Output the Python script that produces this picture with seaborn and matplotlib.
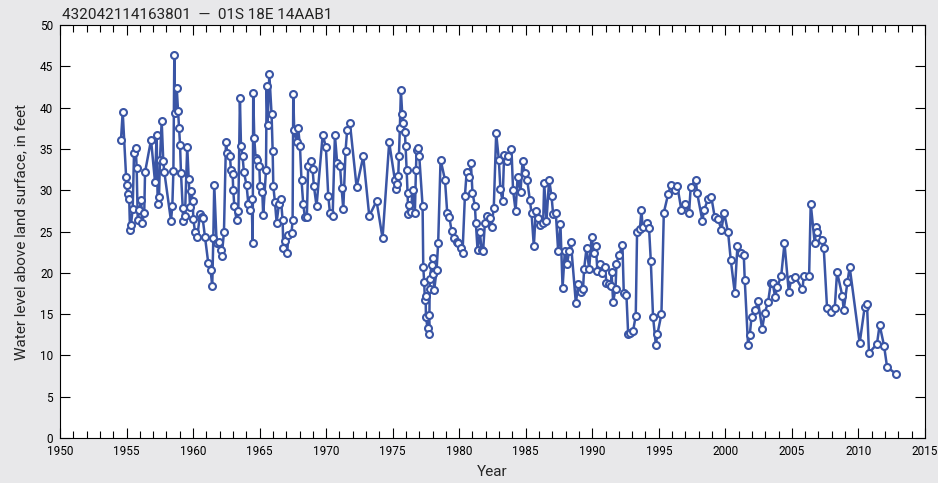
import matplotlib
import matplotlib.pyplot as plt
import numpy as np
import pandas as pd
import seaborn as sns

matplotlib.use("Agg")

# decimal year of each measurement and water level above land surface (ft)
years = [
    1954.58, 1954.71, 1954.96, 1955.00, 1955.08, 1955.20, 1955.26, 1955.33, 1955.46, 1955.56,
    1955.69, 1955.76, 1955.84, 1955.96, 1956.09, 1956.18, 1956.33, 1956.39, 1956.84, 1957.14,
    1957.26, 1957.34, 1957.44, 1957.51, 1957.64, 1957.76, 1957.84, 1958.34, 1958.44, 1958.52,
    1958.59, 1958.64, 1958.77, 1958.87, 1958.94, 1959.02, 1959.09, 1959.22, 1959.26, 1959.39,
    1959.56, 1959.67, 1959.77, 1959.87, 1959.97, 1960.02, 1960.14, 1960.32, 1960.52, 1960.64,
    1960.72, 1960.89, 1961.14, 1961.32, 1961.44, 1961.52, 1961.59, 1961.77, 1961.97, 1962.10,
    1962.15, 1962.32, 1962.47, 1962.57, 1962.77, 1962.85, 1962.97, 1963.02, 1963.10, 1963.27,
    1963.40, 1963.52, 1963.60, 1963.72, 1963.82, 1964.02, 1964.15, 1964.28, 1964.40, 1964.48,
    1964.52, 1964.60, 1964.70, 1964.82, 1964.98, 1965.03, 1965.20, 1965.27, 1965.48, 1965.53,
    1965.60, 1965.73, 1965.90, 1965.98, 1966.03, 1966.15, 1966.28, 1966.45, 1966.60, 1966.73,
    1966.78, 1966.90, 1967.08, 1967.15, 1967.40, 1967.48, 1967.53, 1967.60, 1967.78, 1967.90,
    1968.03, 1968.15, 1968.28, 1968.40, 1968.55, 1968.65, 1968.83, 1968.98, 1969.08, 1969.28,
    1969.74, 1969.98, 1970.16, 1970.29, 1970.49, 1970.66, 1970.83, 1971.04, 1971.16, 1971.29,
    1971.46, 1971.58, 1971.79, 1972.29, 1972.79, 1973.24, 1973.79, 1974.24, 1974.74, 1975.17,
    1975.24, 1975.30, 1975.42, 1975.47, 1975.54, 1975.62, 1975.72, 1975.79, 1975.92, 1975.97,
    1976.05, 1976.12, 1976.17, 1976.22, 1976.37, 1976.50, 1976.67, 1976.75, 1976.80, 1976.88,
    1977.00, 1977.25, 1977.30, 1977.37, 1977.42, 1977.48, 1977.50, 1977.62, 1977.70, 1977.75,
    1977.78, 1977.80, 1977.92, 1978.00, 1978.05, 1978.12, 1978.30, 1978.42, 1978.60, 1978.93,
    1979.10, 1979.25, 1979.43, 1979.60, 1979.80, 1979.92, 1980.10, 1980.25, 1980.43, 1980.56,
    1980.73, 1980.88, 1981.00, 1981.18, 1981.25, 1981.38, 1981.56, 1981.68, 1981.80, 1981.93,
    1982.10, 1982.30, 1982.43, 1982.60, 1982.78, 1982.98, 1983.10, 1983.26, 1983.38, 1983.56,
    1983.70, 1983.93, 1984.05, 1984.24, 1984.39, 1984.61, 1984.76, 1984.94, 1985.11, 1985.31,
    1985.44, 1985.61, 1985.76, 1985.94, 1986.11, 1986.31, 1986.39, 1986.56, 1986.76, 1986.94,
    1987.06, 1987.26, 1987.44, 1987.61, 1987.77, 1987.94, 1988.11, 1988.26, 1988.39, 1988.77,
    1988.94, 1989.12, 1989.31, 1989.39, 1989.57, 1989.77, 1989.95, 1990.12, 1990.27, 1990.39,
    1990.62, 1990.77, 1990.95, 1991.07, 1991.25, 1991.40, 1991.45, 1991.57, 1991.75, 1991.82,
    1992.02, 1992.27, 1992.37, 1992.57, 1992.70, 1992.87, 1993.07, 1993.27, 1993.37, 1993.58,
    1993.70, 1993.78, 1994.08, 1994.27, 1994.40, 1994.57, 1994.78, 1994.90, 1995.20, 1995.38,
    1995.70, 1995.90, 1996.20, 1996.40, 1996.70, 1996.96, 1997.28, 1997.40, 1997.78, 1997.88,
    1998.28, 1998.40, 1998.70, 1998.95, 1999.20, 1999.46, 1999.71, 1999.91, 2000.21, 2000.41,
    2000.71, 2000.91, 2001.21, 2001.39, 2001.46, 2001.71, 2001.84, 2001.97, 2002.27, 2002.46,
    2002.77, 2002.97, 2003.22, 2003.42, 2003.55, 2003.75, 2003.90, 2004.20, 2004.45, 2004.77,
    2004.97, 2005.27, 2005.80, 2005.90, 2006.30, 2006.42, 2006.72, 2006.85, 2006.92, 2007.27,
    2007.40, 2007.65, 2007.93, 2008.23, 2008.40, 2008.80, 2008.90, 2009.18, 2009.35, 2010.10,
    2010.48, 2010.65, 2010.80, 2011.40, 2011.60, 2011.93, 2012.16, 2012.81,
]
levels = [
    36.1, 39.5, 31.6, 30.6, 29.5, 28.9, 25.2, 25.8, 27.7, 34.5,
    35.1, 32.7, 26.4, 27.6, 28.8, 26.1, 27.3, 32.2, 36.1, 31.0,
    36.7, 28.4, 29.2, 33.7, 38.4, 33.5, 32.2, 26.3, 28.1, 32.3,
    46.4, 39.4, 42.4, 39.6, 37.6, 35.5, 32.1, 27.9, 26.3, 26.9,
    35.3, 31.4, 28.0, 29.9, 28.7, 26.5, 25.0, 24.4, 27.1, 26.8,
    26.6, 24.4, 21.2, 20.3, 18.4, 24.2, 30.7, 23.6, 23.8, 22.8,
    22.0, 24.9, 35.8, 34.5, 34.1, 32.4, 32.0, 30.0, 28.1, 26.4,
    27.5, 41.2, 35.4, 34.1, 32.2, 30.6, 28.4, 27.6, 29.0, 23.6,
    41.8, 36.3, 33.9, 33.7, 32.9, 30.5, 29.8, 27.0, 32.4, 42.6,
    37.9, 44.1, 39.2, 34.8, 30.5, 28.6, 26.1, 28.3, 28.9, 26.4,
    23.0, 23.9, 22.4, 24.6, 24.8, 26.4, 41.7, 37.3, 35.9, 37.5,
    35.4, 31.2, 28.3, 26.8, 26.8, 32.9, 33.5, 32.6, 30.5, 28.1,
    36.7, 35.3, 29.3, 27.2, 26.9, 36.7, 33.3, 33.0, 30.3, 27.7,
    34.8, 37.3, 38.1, 30.4, 34.1, 26.9, 28.7, 24.2, 35.8, 31.2,
    30.2, 30.8, 31.7, 34.1, 37.5, 42.1, 39.2, 38.1, 37.1, 35.4,
    32.5, 29.7, 27.1, 28.2, 27.4, 30.0, 27.3, 32.5, 34.9, 35.1,
    34.1, 28.1, 20.7, 18.9, 16.7, 17.2, 14.7, 13.3, 14.9, 12.6,
    18.1, 19.3, 20.9, 19.9, 21.8, 17.9, 20.3, 23.6, 33.7, 31.3,
    27.3, 26.8, 25.1, 24.2, 23.8, 23.6, 23.0, 22.4, 29.3, 32.2,
    31.6, 33.3, 29.7, 28.1, 26.1, 22.8, 24.9, 22.8, 22.7, 26.0,
    26.9, 26.7, 25.6, 27.9, 36.9, 33.7, 30.1, 28.7, 34.3, 33.5,
    34.1, 35.0, 30.0, 27.5, 31.6, 29.8, 33.5, 32.1, 31.3, 28.8,
    27.2, 23.2, 27.5, 26.6, 25.8, 26.0, 30.9, 26.3, 31.3, 29.3,
    27.1, 27.3, 22.6, 25.9, 18.2, 22.6, 21.1, 22.6, 23.8, 16.3,
    18.6, 17.7, 18.1, 20.5, 23.0, 20.5, 24.4, 22.4, 23.2, 20.2,
    21.1, 20.0, 20.7, 18.8, 18.7, 18.4, 20.1, 16.5, 18.1, 21.1,
    22.2, 23.4, 17.6, 17.3, 12.6, 12.7, 13.0, 14.8, 25.0, 25.3,
    27.6, 25.6, 26.1, 25.4, 21.5, 14.7, 11.3, 12.6, 15.0, 27.3,
    29.5, 30.6, 30.0, 30.5, 27.6, 28.3, 27.3, 30.4, 31.3, 29.7,
    26.3, 27.6, 28.9, 29.2, 26.8, 26.5, 25.2, 27.3, 24.9, 21.6,
    17.6, 23.2, 22.4, 22.2, 19.2, 11.3, 12.5, 14.6, 15.5, 16.6,
    13.2, 15.2, 16.5, 18.8, 18.8, 17.1, 18.3, 19.6, 23.6, 17.7,
    19.3, 19.5, 18.0, 19.6, 19.6, 28.4, 23.6, 25.6, 25.0, 24.0,
    23.0, 15.7, 15.3, 15.8, 20.1, 17.2, 15.5, 18.9, 20.7, 11.5,
    15.9, 16.2, 10.3, 11.4, 13.7, 11.2, 8.6, 7.8,
]
title = "432042114163801  \u2014  01S 18E 14AAB1"

df = pd.DataFrame({"year": years, "level": levels})

sns.set_theme(style="ticks")
plt.rcParams["font.family"] = ["Liberation Sans Narrow", "Roboto", "DejaVu Sans"]

blue = "#3a55a5"
fig = plt.figure(figsize=(9.38, 4.83), dpi=100, facecolor="#e8e8ea")
ax = fig.add_axes([0.064, 0.093, 0.922, 0.855])
ax.set_facecolor("white")

sns.lineplot(
    data=df, x="year", y="level", ax=ax, color=blue, linewidth=1.8,
    marker="o", markersize=5, markerfacecolor="white",
    markeredgecolor=blue, markeredgewidth=1.5, estimator=None, sort=False,
)

ax.set_xlim(1950, 2015)
ax.set_ylim(0, 50)
ax.set_xticks(np.arange(1950, 2016, 5))
ax.set_xticks(np.arange(1950, 2016, 1), minor=True)
ax.set_yticks(np.arange(0, 51, 5))
ax.tick_params(which="both", direction="in", top=True, right=True, colors="black",
               labelsize=8.5)
ax.tick_params(axis="x", pad=5)
ax.tick_params(axis="y", pad=5)
ax.tick_params(which="major", length=7, width=0.8)
ax.tick_params(which="minor", length=5, width=0.8)
for s in ax.spines.values():
    s.set_color("black")
    s.set_linewidth(0.8)

ax.set_xlabel("Year", fontsize=11, labelpad=5)
ax.set_ylabel("Water level above land surface, in feet", fontsize=11, labelpad=8)
fig.text(0.066, 0.955, title, fontsize=11, ha="left", va="bottom", color="#222222")

fig.savefig("out.png", dpi=100, facecolor=fig.get_facecolor())
